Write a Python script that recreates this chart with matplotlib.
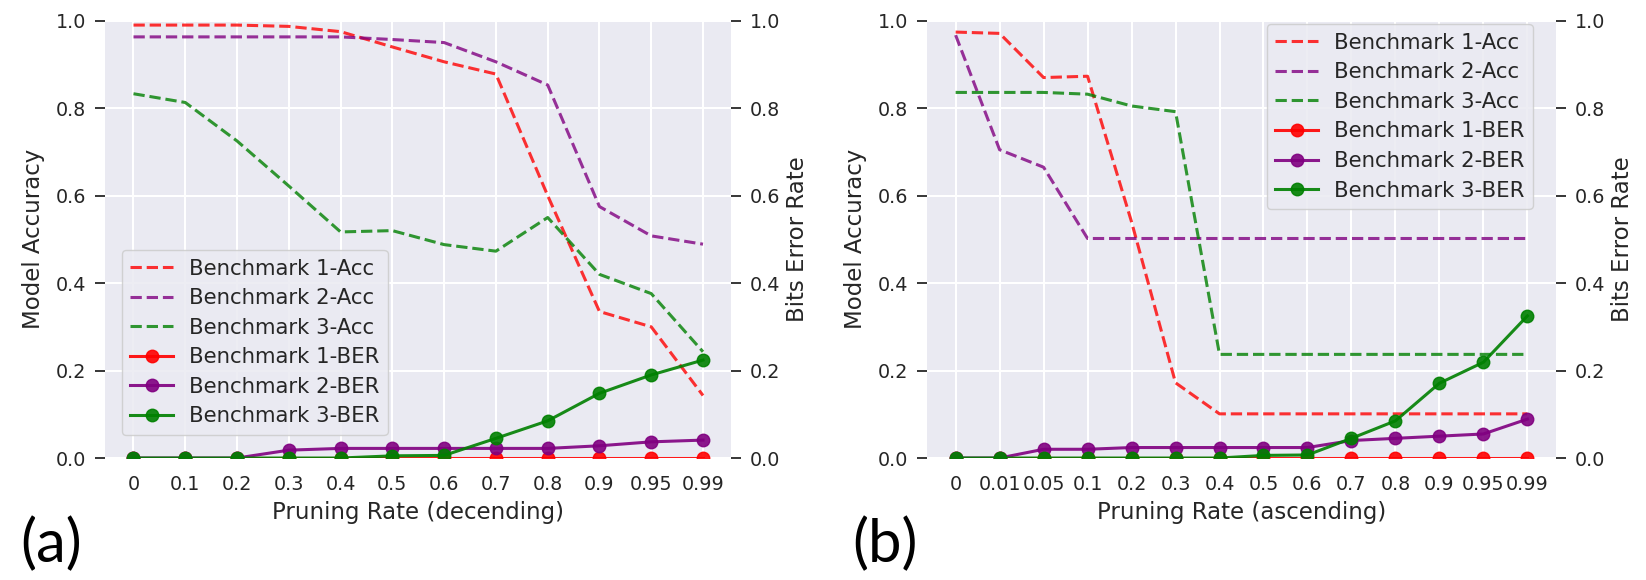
import matplotlib
matplotlib.use("Agg")
import matplotlib.pyplot as plt

# panel (a): pruning rate descending
rates_a = ['0', '0.1', '0.2', '0.3', '0.4', '0.5', '0.6', '0.7', '0.8', '0.9', '0.95', '0.99']
acc1_a = [0.99, 0.99, 0.99, 0.987, 0.975, 0.94, 0.906, 0.878, 0.60, 0.335, 0.30, 0.143]
acc2_a = [0.963, 0.963, 0.963, 0.963, 0.963, 0.957, 0.95, 0.906, 0.853, 0.575, 0.508, 0.489]
acc3_a = [0.833, 0.813, 0.725, 0.622, 0.517, 0.52, 0.488, 0.473, 0.55, 0.42, 0.376, 0.243]
ber1_a = [0, 0, 0, 0, 0, 0, 0, 0, 0, 0, 0, 0]
ber2_a = [0, 0, 0, 0.018, 0.022, 0.022, 0.022, 0.022, 0.022, 0.028, 0.037, 0.041]
ber3_a = [0, 0, 0, 0, 0, 0.005, 0.006, 0.045, 0.085, 0.148, 0.19, 0.224]

# panel (b): pruning rate ascending
rates_b = ['0', '0.01', '0.05', '0.1', '0.2', '0.3', '0.4', '0.5', '0.6', '0.7', '0.8', '0.9', '0.95', '0.99']
acc1_b = [0.974, 0.971, 0.87, 0.873, 0.54, 0.172, 0.101, 0.101, 0.101, 0.101, 0.101, 0.101, 0.101, 0.101]
acc2_b = [0.967, 0.705, 0.665, 0.502, 0.502, 0.502, 0.502, 0.502, 0.502, 0.502, 0.502, 0.502, 0.502, 0.502]
acc3_b = [0.836, 0.836, 0.836, 0.832, 0.805, 0.792, 0.237, 0.237, 0.237, 0.237, 0.237, 0.237, 0.237, 0.237]
ber1_b = [0, 0, 0, 0, 0, 0, 0, 0, 0, 0, 0, 0, 0, 0]
ber2_b = [0, 0, 0.02, 0.02, 0.024, 0.024, 0.024, 0.024, 0.024, 0.04, 0.045, 0.05, 0.055, 0.089]
ber3_b = [0, 0, 0, 0, 0, 0, 0, 0.006, 0.007, 0.045, 0.085, 0.171, 0.219, 0.325]

colors = ['red', 'purple', 'green']
names = ['Benchmark 1', 'Benchmark 2', 'Benchmark 3']
yticks = [0.0, 0.2, 0.4, 0.6, 0.8, 1.0]

plt.rcParams['font.family'] = ['DejaVu Sans']
plt.rcParams['text.color'] = '.15'
plt.rcParams['axes.labelcolor'] = '.15'

fig = plt.figure(figsize=(16.46, 5.8), dpi=100)


def panel(rect, rates, accs, bers, xlabel, leg_loc, leg_anchor):
    ax = fig.add_axes(rect)
    ax.set_facecolor('#EAEAF2')
    for s in ax.spines.values():
        s.set_visible(False)
    ax.grid(True, color='white', linewidth=1.5)
    ax.set_axisbelow(True)
    x = list(range(len(rates)))
    handles = []
    for acc, c, n in zip(accs, colors, names):
        h, = ax.plot(x, acc, '--', color=c, lw=2.2, alpha=0.8, label=n + '-Acc')
        handles.append(h)
    ax.set_ylim(0, 1)
    ax.set_yticks(yticks)
    ax.set_yticklabels(['%.1f' % t for t in yticks])
    ax.set_xticks(x)
    ax.set_xticklabels(rates)
    ax.margins(x=0.05)
    ax.tick_params(axis='y', length=7.5, width=1.3, color='.15', labelcolor='.15', labelsize=13.8, pad=6)
    ax.tick_params(axis='x', length=0, labelcolor='.15', labelsize=13.8, pad=12)
    ax.set_ylabel('Model Accuracy', fontsize=16.5, labelpad=8)
    ax.set_xlabel(xlabel, fontsize=16.5, labelpad=5)

    ax2 = ax.twinx()
    for s in ax2.spines.values():
        s.set_visible(False)
    for ber, c, n in zip(bers, colors, names):
        h, = ax2.plot(x, ber, '-', color=c, lw=2.2, marker='o', ms=9, alpha=0.9, label=n + '-BER')
        handles.append(h)
    ax2.set_ylim(0, 1)
    ax2.set_yticks(yticks)
    ax2.set_yticklabels(['%.1f' % t for t in yticks])
    ax2.grid(False)
    ax2.tick_params(axis='y', length=7.5, width=1.3, color='.15', labelcolor='.15', labelsize=13.8, pad=6)
    ax2.set_ylabel('Bits Error Rate', fontsize=16.5, labelpad=4)

    leg = ax2.legend(handles=handles, loc=leg_loc, bbox_to_anchor=leg_anchor, borderaxespad=0,
                     fontsize=15.3, facecolor='#EAEAF2', edgecolor='#cccccc', framealpha=0.85,
                     handlelength=2.0, handletextpad=0.75, labelspacing=0.45)
    for t in leg.get_texts():
        t.set_color('.15')
    return ax


panel([0.0638, 0.2103, 0.3806, 0.754], rates_a,
      [acc1_a, acc2_a, acc3_a], [ber1_a, ber2_a, ber3_a],
      'Pruning Rate (decending)', 'lower left', (0.027, 0.053))
panel([0.5632, 0.2103, 0.3821, 0.754], rates_b,
      [acc1_b, acc2_b, acc3_b], [ber1_b, ber2_b, ber3_b],
      'Pruning Rate (ascending)', 'upper right', (0.963, 0.992))

fig.text(0.012, 0.061, '(a)', fontsize=43, family=['Lato', 'DejaVu Sans'], color='black', va='center')
fig.text(0.518, 0.061, '(b)', fontsize=43, family=['Lato', 'DejaVu Sans'], color='black', va='center')

fig.savefig('out.png', dpi=100)
